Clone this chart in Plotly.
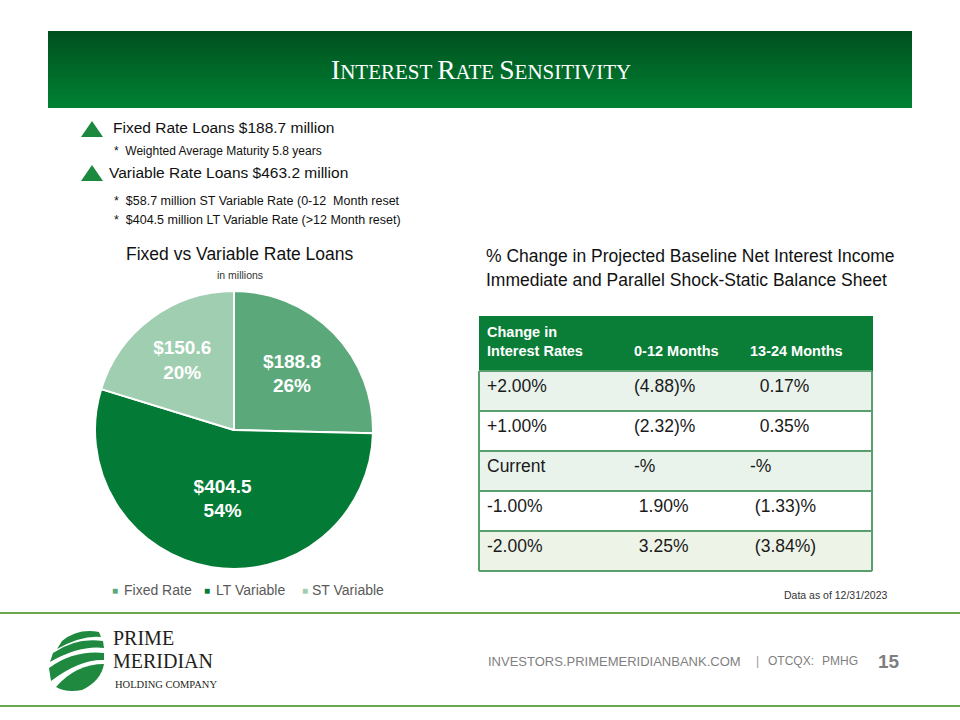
import plotly.graph_objects as go

W, H = 960, 720

# ---------------- Data ----------------
pie_labels = ["Fixed Rate", "LT Variable", "ST Variable"]
pie_values = [188.8, 404.5, 150.6]
pie_pct_text = ["26%", "54%", "20%"]
pie_colors = ["#5ba87a", "#037a35", "#a0ceb1"]

table_header = ["Change in<br>Interest Rates", "\u00a0<br>0-12 Months", "\u00a0<br>13-24 Months"]
rate_changes = ["+2.00%", "+1.00%", "Current", "-1.00%", "-2.00%"]
nii_0_12 = ["(4.88)%", "(2.32)%", "-%", "\u00a01.90%", "\u00a03.25%"]
nii_13_24 = ["\u00a0\u00a00.17%", "\u00a0\u00a00.35%", "-%", "\u00a0(1.33)%", "\u00a0(3.84%)"]
row_fills = ["#e9f3ec", "#ffffff", "#e9f3ec", "#ffffff", "#eef3e7"]

bullets = ["Fixed Rate Loans $188.7 million", "Variable Rate Loans $463.2 million"]
sub_bullets = ["*  Weighted Average Maturity 5.8 years",
               "*  $58.7 million ST Variable Rate (0-12  Month reset",
               "*  $404.5 million LT Variable Rate (>12 Month reset)"]

# ---------------- helpers ----------------
def px(x):
    return x / W

def py(y):
    return 1 - y / H

def P(x, y):
    return f"{x / W:.5f},{1 - y / H:.5f}"

annotations = []
shapes = []

def ann(x, y, text, size, color="#000000", family="Liberation Sans", xanchor="left", yanchor="middle",
        align="left", height=None):
    a = dict(x=px(x), y=py(y), xref="paper", yref="paper", text=text,
             showarrow=False, xanchor=xanchor, yanchor=yanchor, align=align,
             font=dict(size=size, color=color, family=family))
    if height is not None:
        a["height"] = height
    annotations.append(a)

NARROW = "Liberation Sans Narrow, Arial Narrow, Liberation Sans"

fig = go.Figure()

# ---------------- Title banner (gradient) ----------------
top_c = (0, 80, 30)
bot_c = (0, 130, 52)
y0, y1 = 31, 108
n = 40
for i in range(n):
    t = i / (n - 1)
    c = tuple(int(round(top_c[k] + (bot_c[k] - top_c[k]) * t)) for k in range(3))
    ya = y0 + (y1 - y0) * i / n
    shapes.append(dict(type="rect", xref="paper", yref="paper", x0=px(48), x1=px(912),
                       y0=py(ya), y1=py(y1), fillcolor=f"rgb{c}", line=dict(width=0),
                       layer="below"))

ann(481, 70, "<span style='font-size:27.5px'>I</span>NTEREST <span style='font-size:27.5px'>R</span>ATE "
              "<span style='font-size:27.5px'>S</span>ENSITIVITY", 21, "#ffffff", "Liberation Serif", "center")

# ---------------- Bullets ----------------
tri_col = "#1b8a3e"
for ty in (121, 165):
    shapes.append(dict(type="path", xref="paper", yref="paper",
                       path=f"M {P(81, ty + 16)} L {P(92, ty)} L {P(103, ty + 16)} Z",
                       fillcolor=tri_col, line=dict(width=0)))
ann(111, 127, bullets[0], 15.5, "#111111", NARROW)
ann(107, 172, bullets[1], 15.5, "#111111", NARROW)
ann(112, 151, sub_bullets[0], 12, "#111111", NARROW)
ann(112, 201, sub_bullets[1], 12.5, "#111111", NARROW)
ann(112, 220, sub_bullets[2], 12.5, "#111111", NARROW)

# ---------------- Pie ----------------
cx, cy, r = 234, 430, 139
fig.add_trace(go.Pie(
    labels=pie_labels, values=pie_values, text=pie_pct_text,
    sort=False, direction="clockwise", rotation=0,
    marker=dict(colors=pie_colors, line=dict(color="#ffffff", width=2)),
    texttemplate="<b>$%{value:.1f}<br>%{text}</b>",
    textposition="inside", insidetextorientation="horizontal",
    textfont=dict(size=19, color="#ffffff", family="Liberation Sans"),
    domain=dict(x=[px(cx - r), px(cx + r)], y=[py(cy + r), py(cy - r)]),
    showlegend=False, hoverinfo="label+value+percent",
))
ann(240, 254, "Fixed vs Variable Rate Loans", 17.5, "#111111", "Liberation Sans", "center")
ann(240, 275, "in millions", 10.5, "#333333", NARROW, "center")

# legend built from pie data
leg_x = [(110, 122), (202, 214), (300, 310)]
for (sx, tx), lab, col in zip(leg_x, pie_labels, pie_colors):
    ann(sx, 590, "■", 10, col, "Liberation Sans")
    ann(tx, 590, lab, 14, "#595959", "Liberation Sans")

# ---------------- Right title ----------------
ann(484, 256, "% Change in Projected Baseline Net Interest Income", 17.5, "#111111", NARROW)
ann(484, 280, "Immediate and Parallel Shock-Static Balance Sheet", 17.5, "#111111", NARROW)

# ---------------- Table ----------------
t_left, t_right, t_top = 479, 872, 316
hdr_h, row_h = 55, 40
col_w = [147, 116, 130]
hdr_col = "#0a7d37"
fig.add_trace(go.Table(
    domain=dict(x=[px(t_left), px(t_right)], y=[py(t_top + hdr_h + row_h * 5 + 2), py(t_top)]),
    columnwidth=col_w,
    header=dict(values=[f"<b>{h}</b>" for h in table_header],
                fill=dict(color=hdr_col), line=dict(color=hdr_col, width=1),
                align="left", height=hdr_h,
                font=dict(size=14.5, color="#ffffff", family=NARROW)),
    cells=dict(values=[rate_changes, nii_0_12, nii_13_24],
               fill=dict(color=[row_fills] * 3),
               line=dict(color=[row_fills] * 3, width=1),
               align="left", height=row_h,
               font=dict(size=17.5, color="#1a1a1a", family="Liberation Sans")),
))
line_col = "#5a9f6e"
for i in range(6):
    yy = t_top + hdr_h + row_h * i
    shapes.append(dict(type="line", xref="paper", yref="paper", x0=px(t_left), x1=px(t_right),
                       y0=py(yy), y1=py(yy), line=dict(color=line_col, width=2)))
for xx in (t_left, t_right):
    shapes.append(dict(type="line", xref="paper", yref="paper", x0=px(xx), x1=px(xx),
                       y0=py(t_top + hdr_h), y1=py(t_top + hdr_h + row_h * 5),
                       line=dict(color=line_col, width=2)))

ann(889, 595, "Data as of 12/31/2023", 10.5, "#333333", NARROW, "right")

# ---------------- Footer ----------------
foot_line = "#6aa84f"
for yy in (613, 706):
    shapes.append(dict(type="line", xref="paper", yref="paper", x0=0, x1=1, y0=py(yy), y1=py(yy),
                       line=dict(color=foot_line, width=2)))

logo_g = "#1f8a3f"
stripes = [
    f"M {P(62, 641)} Q {P(78, 628)} {P(99, 632)} L {P(101, 637)} Q {P(82, 635)} {P(57, 649)} Z",
    f"M {P(53, 653)} Q {P(76, 637)} {P(103, 641)} L {P(104, 648)} Q {P(80, 645)} {P(50, 662)} Z",
    f"M {P(49, 668)} Q {P(74, 650)} {P(104, 653)} L {P(104, 660)} Q {P(80, 659)} {P(51, 681)} Z",
    f"M {P(56, 687)} Q {P(76, 664)} {P(104, 664)} Q {P(101, 681)} {P(82, 690)} Q {P(66, 693)} {P(56, 687)} Z",
]
for sp in stripes:
    shapes.append(dict(type="path", xref="paper", yref="paper", path=sp,
                       fillcolor=logo_g, line=dict(width=0)))
ann(111, 638, "PRIME", 20, "#231f20", "Liberation Serif")
ann(111, 661, "MERIDIAN", 20, "#231f20", "Liberation Serif")
ann(113, 684, "HOLDING COMPANY", 10.5, "#231f20", "Liberation Serif")

ann(486, 661, "INVESTORS.PRIMEMERIDIANBANK.COM", 13, "#7f7f7f", NARROW)
ann(754, 661, "|", 12, "#9a9a9a", NARROW)
ann(766, 661, "OTCQX:", 12, "#7f7f7f", NARROW)
ann(820, 661, "PMHG", 12, "#7f7f7f", NARROW)
ann(902, 661, "<b>15</b>", 19, "#7f7f7f", NARROW, "right")

fig.update_layout(
    width=W, height=H, margin=dict(l=0, r=0, t=0, b=0),
    paper_bgcolor="#ffffff", plot_bgcolor="#ffffff",
    annotations=annotations, shapes=shapes, showlegend=False,
)

fig.write_html("out.html", config={"displayModeBar": False},
               post_script="document.body.style.margin='0';")
